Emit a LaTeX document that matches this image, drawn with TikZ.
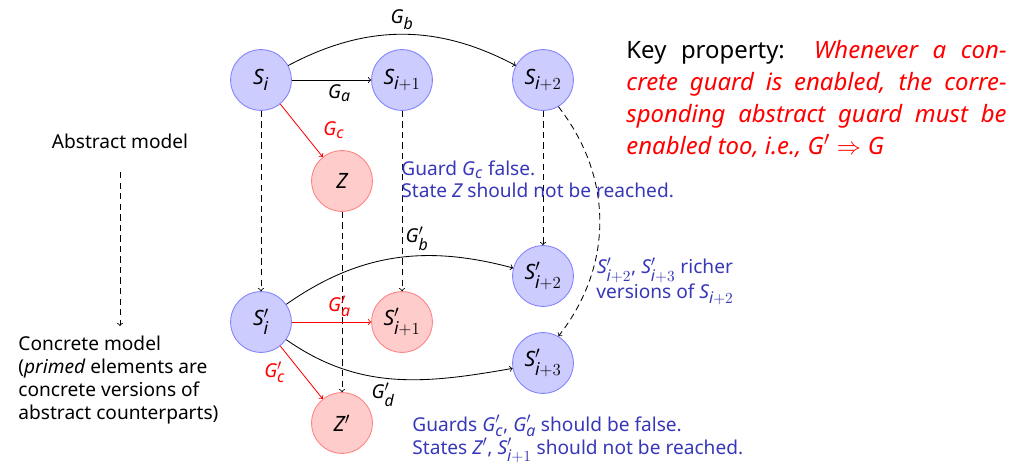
\documentclass[tikz,border=0pt]{standalone}
\usepackage{amsmath}
\usepackage{fontspec}
\setmainfont{Noto Sans}
\usepackage[italic]{mathastext}
\usetikzlibrary{positioning,arrows}
\definecolor{noteblue}{RGB}{55,55,185}
\tikzset{
  st/.style={circle,draw=blue!50,fill=blue!20,minimum size=1.52cm,inner sep=0pt,
    font=\fontsize{15}{17}\selectfont},
  bad/.style={st,draw=red!50,fill=red!20},
  refine/.style={-to,dash pattern=on 4.5pt off 3pt},
  note/.style={text=noteblue,align=left,inner sep=0pt,font=\fontsize{13.6}{16.3}\selectfont},
}

\begin{document}
\begin{tikzpicture}[x=0.025cm,y=-0.025cm,font=\fontsize{13.6}{16.3}\selectfont,>=to,semithick]
   \useasboundingbox (0,0) rectangle (1022,467);
   % abstract model
   \node[st] (si) at (261,80) {$S_i$};
   \node[st] (si1) at (402,80) {$S_{i+1}$};
   \node[st] (si2) at (543,80) {$S_{i+2}$};
   \node[bad] (z) at (342,181) {$Z$};
   % concrete model
   \node[st] (ci) at (261,322) {$S'_i$};
   \node[bad] (ci1) at (402,322) {$S'_{i+1}$};
   \node[st] (ci2) at (543,276) {$S'_{i+2}$};
   \node[st] (ci3) at (543,363) {$S'_{i+3}$};
   \node[bad] (cz) at (342,423) {$Z'$};
   % refinement
   \path[refine]
   (si) edge (ci)
   (si1) edge (ci1)
   (si2) edge (ci2)
   (z) edge (cz)
   (si2.-60) edge [bend left=38] (ci3.60);
   \path[->]
   (si) edge node [below,pos=0.6] {$G_a$} (si1)
   (si) edge [bend left=28] node [above] {$G_b$} (si2)
   (si) edge [red] node [right=12pt] {$G_c$} (z)
   (ci) edge [red] node [above,pos=0.6] {$G'_a$} (ci1)
   (ci) edge [out=35,in=165] node [above,pos=0.6] {$G'_b$} (ci2)
   (ci) edge [red] node [left=8pt] {$G'_c$} (cz)
   (ci) edge [out=-35,in=190] node [below,pos=0.45] {$G'_d$} (ci3);
   % left side
   \node (am) at (120,141) {Abstract model};
   \node[align=left,inner sep=0pt,anchor=north west] (cm) at (18,336)
     {Concrete model\\(\textit{primed} elements are\\concrete versions of\\abstract counterparts)};
   \coordinate (am-s) at (120,172);
   \coordinate (cm-n) at (120,326);
   \draw[refine] (am-s) -- (cm-n);
   % notes
   \node[note,anchor=north west] (n1) at (401,160) {Guard $G_c$ false.\\State $Z$ should not be reached.};
   \node[note,align=center] (n2) at (665,281) {$S'_{i+2}$, $S'_{i+3}$ richer\\versions of $S_{i+2}$};
   \node[note,anchor=north west] (n3) at (412,415) {Guards $G'_c$, $G'_a$ should be false.\\States $Z'$, $S'_{i+1}$ should not be reached.};
   \node[anchor=north west,inner sep=0pt,text width=9.5cm,align=justify,
     font=\fontsize{17}{22.7}\selectfont] (key) at (626,40)
     {Key property:\ \ \textcolor{red}{\itshape Whenever a con-\linebreak crete guard is enabled, the corre-\linebreak sponding abstract guard must be\linebreak enabled too, i.e., $G'\Rightarrow G$}};
\end{tikzpicture}
\end{document}
